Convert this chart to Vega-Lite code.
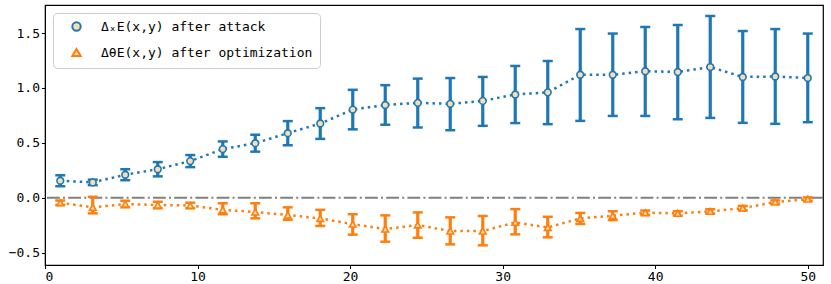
{
  "$schema": "https://vega.github.io/schema/vega-lite/v6.json",
  "width": 778,
  "height": 260,
  "autosize": {"type": "none"},
  "padding": {"left": 45, "top": 5, "right": 8, "bottom": 19},
  "background": "white",
  "config": {
    "view": {"stroke": "black", "strokeWidth": 1.2},
    "axis": {
      "grid": false,
      "domainColor": "black",
      "tickColor": "black",
      "tickSize": 3.5,
      "labelFont": "DejaVu Sans Mono",
      "labelFontSize": 13,
      "labelColor": "black",
      "title": null
    },
    "legend": {
      "orient": "top-left",
      "offset": 8,
      "padding": 7,
      "fillColor": "rgba(255,255,255,0.8)",
      "strokeColor": "#cccccc",
      "cornerRadius": 4,
      "labelFont": "DejaVu Sans Mono",
      "labelFontSize": 13,
      "labelColor": "black",
      "labelLimit": 0,
      "symbolSize": 70,
      "symbolStrokeWidth": 2,
      "symbolOffset": 10,
      "labelOffset": 18,
      "rowPadding": 9,
      "title": null
    }
  },
  "data": {
    "values": [
      {"x": 1.0, "v": 0.155, "lo": 0.105, "hi": 0.205, "s": "attack"},
      {"x": 3.1304, "v": 0.14, "lo": 0.115, "hi": 0.165, "s": "attack"},
      {"x": 5.2609, "v": 0.21, "lo": 0.16, "hi": 0.26, "s": "attack"},
      {"x": 7.3913, "v": 0.26, "lo": 0.195, "hi": 0.325, "s": "attack"},
      {"x": 9.5217, "v": 0.334, "lo": 0.279, "hi": 0.389, "s": "attack"},
      {"x": 11.6522, "v": 0.443, "lo": 0.373, "hi": 0.513, "s": "attack"},
      {"x": 13.7826, "v": 0.497, "lo": 0.42, "hi": 0.574, "s": "attack"},
      {"x": 15.913, "v": 0.588, "lo": 0.478, "hi": 0.698, "s": "attack"},
      {"x": 18.0435, "v": 0.676, "lo": 0.536, "hi": 0.816, "s": "attack"},
      {"x": 20.1739, "v": 0.803, "lo": 0.623, "hi": 0.983, "s": "attack"},
      {"x": 22.3043, "v": 0.845, "lo": 0.665, "hi": 1.025, "s": "attack"},
      {"x": 24.4348, "v": 0.864, "lo": 0.64, "hi": 1.085, "s": "attack"},
      {"x": 26.5652, "v": 0.855, "lo": 0.615, "hi": 1.09, "s": "attack"},
      {"x": 28.6957, "v": 0.882, "lo": 0.655, "hi": 1.1, "s": "attack"},
      {"x": 30.8261, "v": 0.94, "lo": 0.68, "hi": 1.2, "s": "attack"},
      {"x": 32.9565, "v": 0.96, "lo": 0.67, "hi": 1.245, "s": "attack"},
      {"x": 35.087, "v": 1.12, "lo": 0.7, "hi": 1.536, "s": "attack"},
      {"x": 37.2174, "v": 1.12, "lo": 0.745, "hi": 1.495, "s": "attack"},
      {"x": 39.3478, "v": 1.152, "lo": 0.745, "hi": 1.555, "s": "attack"},
      {"x": 41.4783, "v": 1.145, "lo": 0.715, "hi": 1.573, "s": "attack"},
      {"x": 43.6087, "v": 1.19, "lo": 0.727, "hi": 1.655, "s": "attack"},
      {"x": 45.7391, "v": 1.1, "lo": 0.682, "hi": 1.518, "s": "attack"},
      {"x": 47.8696, "v": 1.104, "lo": 0.673, "hi": 1.536, "s": "attack"},
      {"x": 50.0, "v": 1.09, "lo": 0.688, "hi": 1.495, "s": "attack"},
      {"x": 1.0, "v": -0.045, "lo": -0.065, "hi": -0.025, "s": "optimization"},
      {"x": 3.1304, "v": -0.087, "lo": -0.142, "hi": 0.009, "s": "optimization"},
      {"x": 5.2609, "v": -0.057, "lo": -0.087, "hi": -0.027, "s": "optimization"},
      {"x": 7.3913, "v": -0.066, "lo": -0.096, "hi": -0.036, "s": "optimization"},
      {"x": 9.5217, "v": -0.07, "lo": -0.095, "hi": -0.045, "s": "optimization"},
      {"x": 11.6522, "v": -0.11, "lo": -0.15, "hi": -0.05, "s": "optimization"},
      {"x": 13.7826, "v": -0.13, "lo": -0.187, "hi": -0.05, "s": "optimization"},
      {"x": 15.913, "v": -0.157, "lo": -0.2, "hi": -0.087, "s": "optimization"},
      {"x": 18.0435, "v": -0.188, "lo": -0.257, "hi": -0.11, "s": "optimization"},
      {"x": 20.1739, "v": -0.24, "lo": -0.336, "hi": -0.15, "s": "optimization"},
      {"x": 22.3043, "v": -0.285, "lo": -0.4, "hi": -0.16, "s": "optimization"},
      {"x": 24.4348, "v": -0.248, "lo": -0.364, "hi": -0.133, "s": "optimization"},
      {"x": 26.5652, "v": -0.303, "lo": -0.424, "hi": -0.178, "s": "optimization"},
      {"x": 28.6957, "v": -0.303, "lo": -0.433, "hi": -0.166, "s": "optimization"},
      {"x": 30.8261, "v": -0.224, "lo": -0.333, "hi": -0.103, "s": "optimization"},
      {"x": 32.9565, "v": -0.27, "lo": -0.36, "hi": -0.173, "s": "optimization"},
      {"x": 35.087, "v": -0.188, "lo": -0.238, "hi": -0.138, "s": "optimization"},
      {"x": 37.2174, "v": -0.163, "lo": -0.203, "hi": -0.123, "s": "optimization"},
      {"x": 39.3478, "v": -0.136, "lo": -0.156, "hi": -0.116, "s": "optimization"},
      {"x": 41.4783, "v": -0.142, "lo": -0.162, "hi": -0.122, "s": "optimization"},
      {"x": 43.6087, "v": -0.124, "lo": -0.144, "hi": -0.104, "s": "optimization"},
      {"x": 45.7391, "v": -0.094, "lo": -0.114, "hi": -0.074, "s": "optimization"},
      {"x": 47.8696, "v": -0.039, "lo": -0.054, "hi": -0.024, "s": "optimization"},
      {"x": 50.0, "v": -0.012, "lo": -0.027, "hi": 0.003, "s": "optimization"}
    ]
  },
  "layer": [
    {
      "data": {"values": [{"z": 0}]},
      "mark": {"type": "rule", "color": "#808080", "strokeWidth": 2, "strokeDash": [12.8, 3.2, 2, 3.2]},
      "encoding": {"y": {"field": "z", "type": "quantitative"}}
    },
    {
      "mark": {"type": "line", "strokeWidth": 2.5, "strokeDash": [2.5, 4]},
      "encoding": {
        "x": {
          "field": "x",
          "type": "quantitative",
          "scale": {"domain": [0, 51], "nice": false, "zero": false},
          "axis": {"values": [0, 10, 20, 30, 40, 50], "format": "d"}
        },
        "y": {
          "field": "v",
          "type": "quantitative",
          "scale": {"domain": [-0.612, 1.755], "nice": false, "zero": false},
          "axis": {"values": [-0.5, 0, 0.5, 1, 1.5], "format": ".1f"}
        },
        "detail": {"field": "s", "type": "nominal"},
        "color": {"condition": {"test": "datum.s == 'attack'", "value": "#1f77b4"}, "value": "#ff7f0e"}
      }
    },
    {
      "mark": {"type": "rule", "strokeWidth": 3.2},
      "encoding": {
        "x": {"field": "x", "type": "quantitative"},
        "y": {"field": "lo", "type": "quantitative"},
        "y2": {"field": "hi"},
        "color": {"condition": {"test": "datum.s == 'attack'", "value": "#1f77b4"}, "value": "#ff7f0e"}
      }
    },
    {
      "mark": {"type": "tick", "orient": "horizontal", "size": 10, "thickness": 2.5, "opacity": 1},
      "encoding": {
        "x": {"field": "x", "type": "quantitative"},
        "y": {"field": "lo", "type": "quantitative"},
        "color": {"condition": {"test": "datum.s == 'attack'", "value": "#1f77b4"}, "value": "#ff7f0e"}
      }
    },
    {
      "mark": {"type": "tick", "orient": "horizontal", "size": 10, "thickness": 2.5, "opacity": 1},
      "encoding": {
        "x": {"field": "x", "type": "quantitative"},
        "y": {"field": "hi", "type": "quantitative"},
        "color": {"condition": {"test": "datum.s == 'attack'", "value": "#1f77b4"}, "value": "#ff7f0e"}
      }
    },
    {
      "mark": {"type": "point", "filled": false, "fill": "#f5deb3", "fillOpacity": 1, "strokeWidth": 1.6, "size": 45, "opacity": 1},
      "encoding": {
        "x": {"field": "x", "type": "quantitative"},
        "y": {"field": "v", "type": "quantitative"},
        "color": {
          "field": "s",
          "type": "nominal",
          "scale": {"domain": ["attack", "optimization"], "range": ["#1f77b4", "#ff7f0e"]},
          "legend": {
            "labelExpr": "datum.value == 'attack' ? 'ΔₓE(x,y) after attack' : 'ΔθE(x,y) after optimization'"
          }
        },
        "shape": {
          "field": "s",
          "type": "nominal",
          "scale": {"domain": ["attack", "optimization"], "range": ["circle", "triangle-up"]}
        }
      }
    }
  ]
}
